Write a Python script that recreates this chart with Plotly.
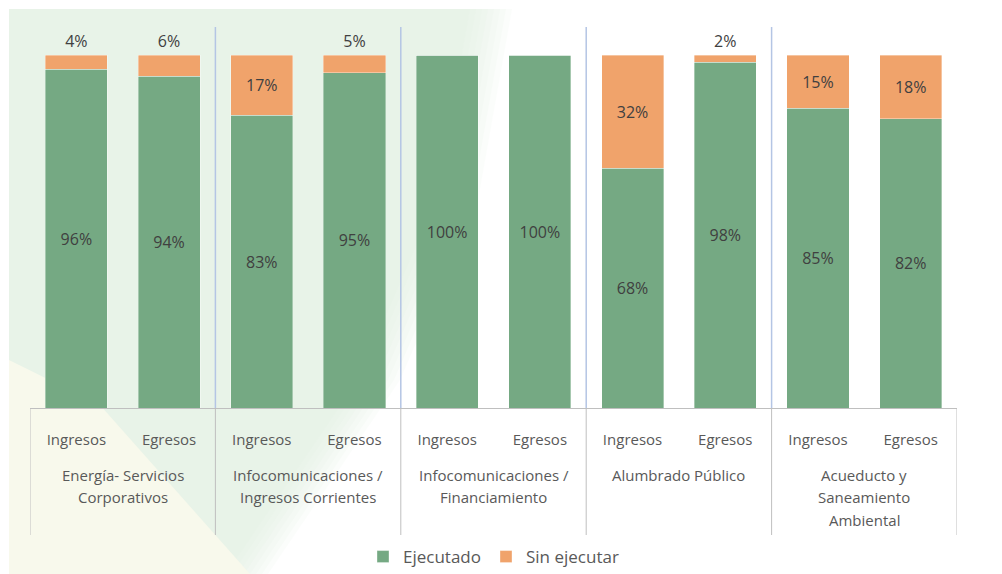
import plotly.graph_objects as go

groups = ["Energía- Servicios<br>Corporativos", "Infocomunicaciones /<br>Ingresos Corrientes",
          "Infocomunicaciones /<br>Financiamiento", "Alumbrado Público",
          "Acueducto y<br>Saneamiento<br>Ambiental"]
subs = ["Ingresos", "Egresos"]
ejecutado = [96, 94, 83, 95, 100, 100, 68, 98, 85, 82]
sin_ejecutar = [4, 6, 17, 5, 0, 0, 32, 2, 15, 18]

n = len(groups) * len(subs)
xpos = list(range(n))
ticktext = [s for _ in groups for s in subs]

GREEN = "#75a983"
ORANGE = "#f0a36b"
LABEL = "#404040"
TICK = "#595959"
FONT = "'Open Sans', sans-serif"

W, H = 1002, 574
L, T = 30, 27
R = W - 957
B = H - 408
pw, ph = W - L - R, H - T - B

def px(xp):
    return (xp - L) / pw

def py(yp):
    return (H - B - yp) / ph

def poly(points):
    return "M " + " L ".join(f"{px(a):.5f} {py(b):.5f}" for a, b in points) + " Z"

fig = go.Figure()
fig.add_trace(go.Bar(
    x=xpos, y=ejecutado, name="Ejecutado", marker_color=GREEN,
    marker_line=dict(color="rgba(255,255,255,0.6)", width=0.6),
    text=[f"{v}%" for v in ejecutado], textposition="inside",
    insidetextanchor="middle", insidetextfont=dict(color=LABEL, size=16, family=FONT),
))
fig.add_trace(go.Bar(
    x=xpos, y=sin_ejecutar, name="Sin ejecutar", marker_color=ORANGE,
    marker_line=dict(color="rgba(255,255,255,0.6)", width=0.6),
    text=[f"{v}%" if v > 0 else "" for v in sin_ejecutar],
    textposition=["outside" if v < 10 else "inside" for v in sin_ejecutar],
    insidetextanchor="middle",
    insidetextfont=dict(color=LABEL, size=16, family=FONT),
    outsidetextfont=dict(color=LABEL, size=16, family=FONT),
))

shapes = []
# background tints (soft green panel with faded right edge)
for i in range(8):
    dx = -6 * i
    shapes.append(dict(type="path", xref="paper", yref="paper",
                       path=poly([(9, 9), (512 + dx, 9), (478 + dx, 200), (400 + dx, 380),
                                  (268 + dx, 574), (9, 574)]),
                       fillcolor="rgba(222,238,226,0.13)", line_width=0, layer="below"))
shapes.append(dict(type="path", xref="paper", yref="paper",
                   path=poly([(9, 360), (100, 405), (250, 574), (9, 574)]),
                   fillcolor="rgba(248,249,236,1)", line_width=0, layer="below"))

ng = len(groups)
per = len(subs)
# group separators in plot area (blue) and below-axis dividers (gray)
for g in range(1, ng):
    xb = g * per - 0.5
    shapes.append(dict(type="line", xref="x", yref="paper", x0=xb, x1=xb, y0=0, y1=1,
                       line=dict(color="#b4c5e4", width=1.5)))
for g in range(0, ng + 1):
    xb = g * per - 0.5
    shapes.append(dict(type="line", xref="x", yref="paper", x0=xb, x1=xb, y0=0, y1=py(535),
                       line=dict(color="#bfbfbf", width=1)))

annotations = []
for g, name in enumerate(groups):
    xc = g * per + (per - 1) / 2
    for k, line in enumerate(name.split("<br>")):
        annotations.append(dict(x=xc, xref="x", y=py(475 + 22.5 * k), yref="paper",
                                text=line, showarrow=False, xanchor="center", yanchor="middle",
                                font=dict(size=15, color=TICK, family=FONT)))

fig.update_layout(
    width=W, height=H, barmode="stack", bargap=0.33,
    margin=dict(l=L, r=R, t=T, b=B, autoexpand=False),
    paper_bgcolor="white", plot_bgcolor="rgba(0,0,0,0)",
    font=dict(family=FONT, color=TICK, size=15),
    showlegend=True,
    legend=dict(orientation="h", x=0.5, xanchor="center", y=py(557), yanchor="middle",
                font=dict(size=17, color=TICK), bgcolor="rgba(0,0,0,0)",
                traceorder="normal"),
    shapes=shapes, annotations=annotations,
)
fig.update_xaxes(range=[-0.5, n - 0.5], tickvals=xpos, ticktext=ticktext,
                 showline=True, linecolor="#bfbfbf", linewidth=1, automargin=False,
                 showgrid=False, zeroline=False, ticks="", ticklabelstandoff=18,
                 tickfont=dict(size=15, color=TICK, family=FONT))
fig.update_yaxes(range=[0, 108], visible=False, showgrid=False, automargin=False)
fig.update_traces(cliponaxis=False, constraintext="none")

post = ("document.documentElement.style.margin='0';document.body.style.margin='0';"
        "document.documentElement.style.overflow='hidden';document.body.style.overflow='hidden';")
fig.write_html("out.html", post_script=post, config={"displayModeBar": False})
